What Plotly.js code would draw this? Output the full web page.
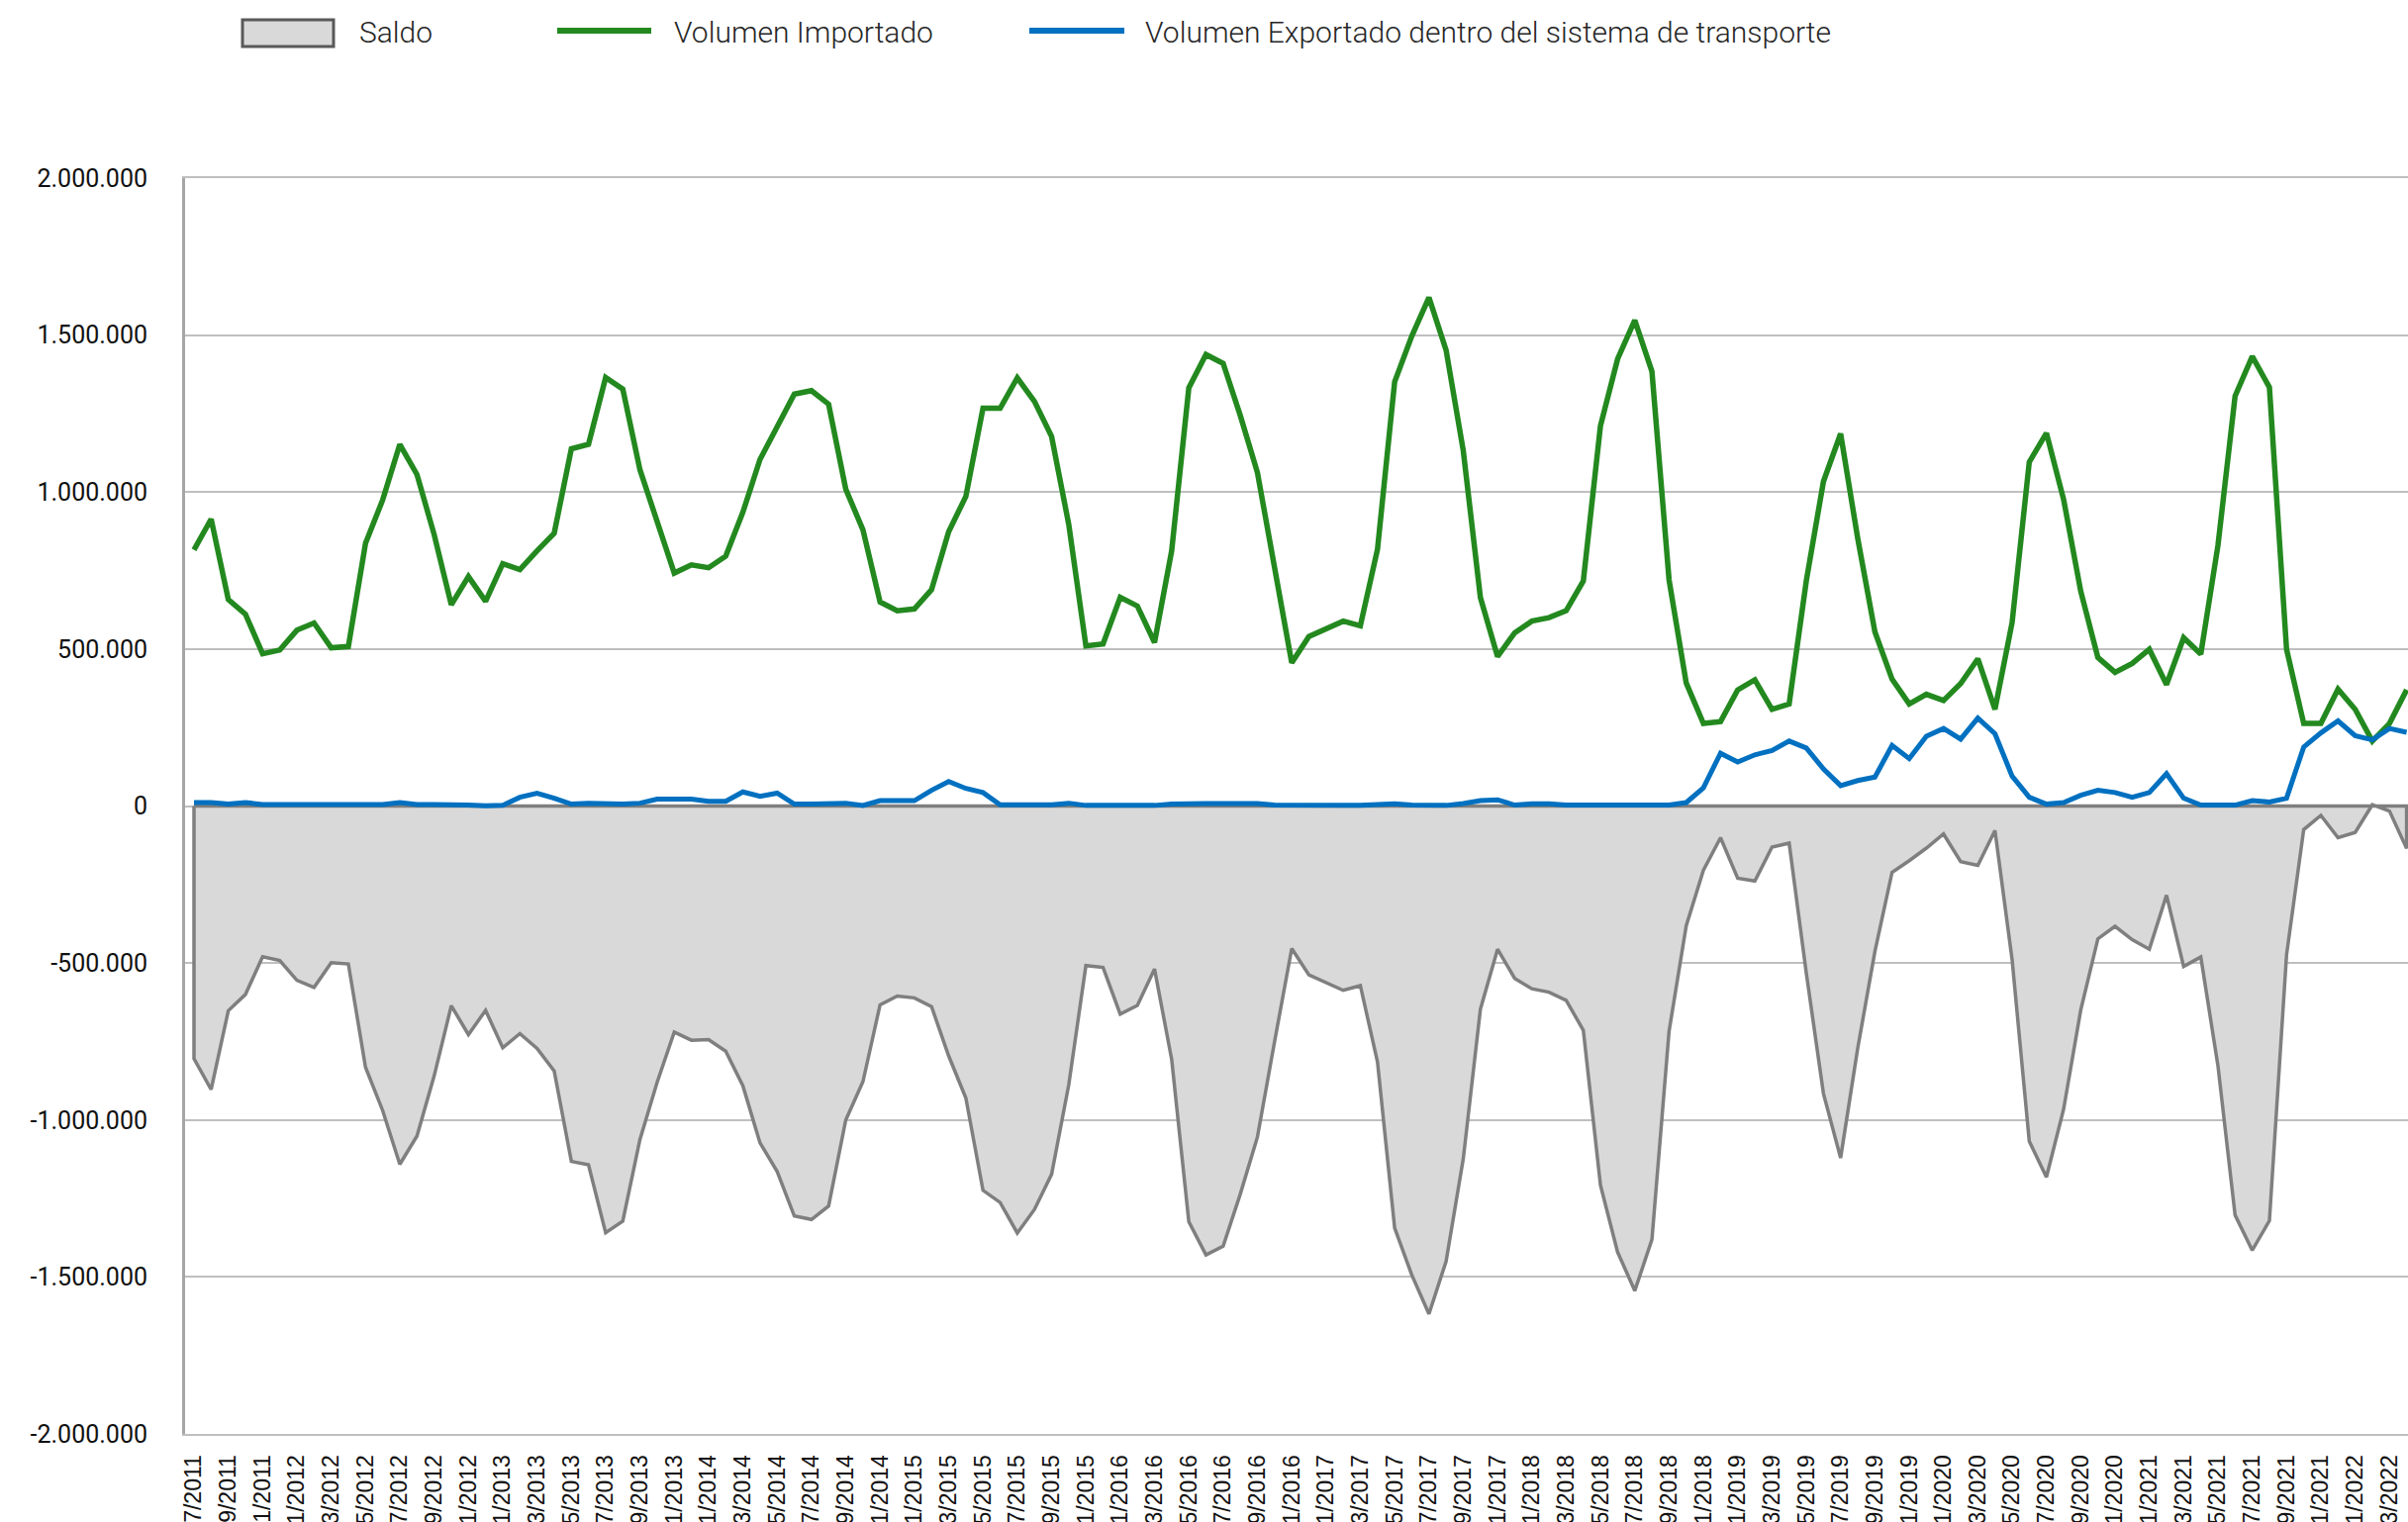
<!DOCTYPE html>
<html>
<head>
<meta charset="utf-8">
<script src="https://cdn.plot.ly/plotly-3.0.1.min.js"></script>
<style>
html,body{margin:0;padding:0;background:#ffffff;overflow:hidden}
#chart{width:2433px;height:1538px}
</style>
</head>
<body>
<div id="chart"></div>
<script>
// ---------- DATA ----------
const months = [
"7/2011","8/2011","9/2011","10/2011","11/2011","12/2011",
"1/2012","2/2012","3/2012","4/2012","5/2012","6/2012","7/2012","8/2012","9/2012","10/2012","11/2012","12/2012",
"1/2013","2/2013","3/2013","4/2013","5/2013","6/2013","7/2013","8/2013","9/2013","10/2013","11/2013","12/2013",
"1/2014","2/2014","3/2014","4/2014","5/2014","6/2014","7/2014","8/2014","9/2014","10/2014","11/2014","12/2014",
"1/2015","2/2015","3/2015","4/2015","5/2015","6/2015","7/2015","8/2015","9/2015","10/2015","11/2015","12/2015",
"1/2016","2/2016","3/2016","4/2016","5/2016","6/2016","7/2016","8/2016","9/2016","10/2016","11/2016","12/2016",
"1/2017","2/2017","3/2017","4/2017","5/2017","6/2017","7/2017","8/2017","9/2017","10/2017","11/2017","12/2017",
"1/2018","2/2018","3/2018","4/2018","5/2018","6/2018","7/2018","8/2018","9/2018","10/2018","11/2018","12/2018",
"1/2019","2/2019","3/2019","4/2019","5/2019","6/2019","7/2019","8/2019","9/2019","10/2019","11/2019","12/2019",
"1/2020","2/2020","3/2020","4/2020","5/2020","6/2020","7/2020","8/2020","9/2020","10/2020","11/2020","12/2020",
"1/2021","2/2021","3/2021","4/2021","5/2021","6/2021","7/2021","8/2021","9/2021","10/2021","11/2021","12/2021",
"1/2022","2/2022","3/2022","4/2022"
];

const xTickLabels = [
"7/2011","9/2011","11/2011",
"1/2012","3/2012","5/2012","7/2012","9/2012","11/2012",
"1/2013","3/2013","5/2013","7/2013","9/2013","11/2013",
"1/2014","3/2014","5/2014","7/2014","9/2014","11/2014",
"1/2015","3/2015","5/2015","7/2015","9/2015","11/2015",
"1/2016","3/2016","5/2016","7/2016","9/2016","11/2016",
"1/2017","3/2017","5/2017","7/2017","9/2017","11/2017",
"1/2018","3/2018","5/2018","7/2018","9/2018","11/2018",
"1/2019","3/2019","5/2019","7/2019","9/2019","11/2019",
"1/2020","3/2020","5/2020","7/2020","9/2020","11/2020",
"1/2021","3/2021","5/2021","7/2021","9/2021","11/2021",
"1/2022","3/2022"
];

const saldo = [
-805000,-903000,-652000,-600000,-480000,-492000,-555000,-578000,-499000,-503000,
-832000,-970000,-1141000,-1051000,-860000,-636000,-728000,-651000,-770000,-725000,
-772000,-844000,-1132000,-1143000,-1359000,-1322000,-1062000,-880000,-720000,-746000,
-744000,-781000,-891000,-1073000,-1164000,-1306000,-1317000,-1274000,-1000000,-878000,
-633000,-605000,-611000,-639000,-796000,-930000,-1224000,-1263000,-1360000,-1285000,
-1173000,-888000,-508000,-514000,-663000,-635000,-519000,-807000,-1324000,-1430000,
-1402000,-1236000,-1054000,-750000,-454000,-538000,-562000,-587000,-572000,-815000,
-1344000,-1494000,-1618000,-1450000,-1124000,-647000,-456000,-549000,-582000,-593000,
-619000,-714000,-1208000,-1421000,-1544000,-1381000,-717000,-381000,-205000,-101000,
-230000,-239000,-131000,-118000,-532000,-916000,-1121000,-771000,-463000,-211000,
-174000,-134000,-89000,-177000,-189000,-78000,-490000,-1068000,-1182000,-966000,
-650000,-423000,-383000,-426000,-456000,-284000,-511000,-481000,-827000,-1303000,
-1415000,-1321000,-474000,-75000,-30000,-101000,-84000,4000,-16000,-135000
];

const importado = [
816000,914000,658000,611000,485000,497000,560000,583000,504000,508000,
837000,975000,1152000,1056000,865000,641000,731000,652000,772000,753000,
813000,869000,1138000,1152000,1365000,1328000,1071000,902000,742000,768000,
759000,796000,936000,1104000,1205000,1312000,1323000,1280000,1009000,880000,
650000,622000,628000,689000,874000,986000,1267000,1267000,1364000,1289000,
1177000,897000,510000,516000,665000,637000,521000,813000,1332000,1438000,
1410000,1244000,1062000,753000,456000,540000,564000,589000,574000,818000,
1351000,1497000,1620000,1452000,1132000,664000,476000,552000,589000,600000,
622000,717000,1211000,1424000,1547000,1384000,720000,392000,263000,269000,
370000,402000,308000,325000,717000,1034000,1186000,852000,555000,404000,
325000,356000,336000,390000,469000,308000,585000,1096000,1188000,977000,
684000,473000,426000,454000,499000,387000,536000,484000,830000,1306000,
1432000,1334000,499000,263000,263000,372000,308000,207000,263000,370000
];

const exportado = [
11000,11000,6000,11000,5000,5000,5000,5000,5000,5000,
5000,5000,11000,5000,5000,5000,3000,1000,2000,28000,
41000,25000,6000,9000,6000,6000,9000,22000,22000,22000,
15000,15000,45000,31000,41000,6000,6000,6000,9000,2000,
17000,17000,17000,50000,78000,56000,43000,4000,4000,4000,
4000,9000,2000,2000,2000,2000,2000,6000,8000,8000,
8000,8000,8000,3000,2000,2000,2000,2000,2000,3000,
7000,3000,2000,2000,8000,17000,20000,3000,7000,7000,
3000,3000,3000,3000,3000,3000,3000,11000,58000,168000,
140000,163000,177000,207000,185000,118000,65000,81000,92000,193000,
151000,222000,247000,213000,280000,230000,95000,28000,6000,11000,
34000,50000,43000,28000,43000,103000,25000,3000,3000,3000,
17000,13000,25000,188000,233000,271000,224000,211000,247000,235000
];

const yTickValues = [-2000000,-1500000,-1000000,-500000,0,500000,1000000,1500000,2000000];
const yTickLabels = ["-2.000.000","-1.500.000","-1.000.000","-500.000","0","500.000","1.000.000","1.500.000","2.000.000"];

const seriesNames = ["Saldo","Volumen Importado","Volumen Exportado dentro del sistema de transporte"];

// ---------- STYLE / GEOMETRY ----------
const W = 2433, H = 1538, L = 187, R = 0, T = 180, B = 89;
const PW = W - L - R, PH = H - T - B;
const px = x => (x - L) / PW;
const py = y => (H - B - y) / PH;

const GREEN = "#23891F", BLUE = "#0070C0", GREYLINE = "#7F7F7F", GREYFILL = "#D9D9D9";
const ROBOTO = 'Roboto, "Noto Sans", sans-serif';
const ARIAL = '"Liberation Sans", Arial, sans-serif';

const last = months.length - 1;
const saldoX = [months[0]].concat(months, [months[last], months[0]]);
const saldoY = [0].concat(saldo, [0, 0]);

const traces = [
  {
    type: "scatter", mode: "lines", name: seriesNames[0],
    x: saldoX, y: saldoY, fill: "toself", fillcolor: GREYFILL,
    line: {color: GREYLINE, width: 3.5}, showlegend: false, hoverinfo: "skip"
  },
  {
    type: "scatter", mode: "lines", name: seriesNames[1],
    x: months, y: importado,
    line: {color: GREEN, width: 5.5}, showlegend: false
  },
  {
    type: "scatter", mode: "lines", name: seriesNames[2],
    x: months, y: exportado,
    line: {color: BLUE, width: 5}, showlegend: false
  }
];

// manual legend (symbols + texts)
const legendY = 33;
const shapes = [
  {type: "rect", xref: "paper", yref: "paper",
   x0: px(245), x1: px(337), y0: py(47), y1: py(20),
   fillcolor: GREYFILL, line: {color: "#595959", width: 3}},
  {type: "line", xref: "paper", yref: "paper",
   x0: px(563), x1: px(658), y0: py(31), y1: py(31),
   line: {color: GREEN, width: 6}},
  {type: "line", xref: "paper", yref: "paper",
   x0: px(1040), x1: px(1136), y0: py(31), y1: py(31),
   line: {color: BLUE, width: 6}}
];
const legendTextX = [361, 679, 1155];
const annotations = seriesNames.map((t, k) => ({
  xref: "paper", yref: "paper", x: px(legendTextX[k]), y: py(legendY),
  xanchor: "left", yanchor: "middle", showarrow: false, text: t,
  font: {family: ROBOTO, size: 30, weight: 300, color: "#262626"}
}));

const layout = {
  width: W, height: H,
  margin: {l: L, r: R, t: T, b: B, pad: 0},
  paper_bgcolor: "#ffffff", plot_bgcolor: "#ffffff",
  showlegend: false,
  xaxis: {
    type: "category",
    range: [-0.52, 129.08],
    tickmode: "array", tickvals: xTickLabels, ticktext: xTickLabels,
    tickangle: -90, ticks: "", ticklabelstandoff: 10,
    tickfont: {family: ARIAL, size: 23, color: "#111111"},
    showgrid: false, zeroline: false,
    showline: true, mirror: true, linecolor: "#BFBFBF", linewidth: 2,
    automargin: false
  },
  yaxis: {
    range: [-2000000, 2000000],
    tickmode: "array", tickvals: yTickValues, ticktext: yTickLabels,
    ticks: "", ticklabelstandoff: 30,
    tickfont: {family: ROBOTO, size: 25, color: "#111111"},
    showgrid: true, gridcolor: "#BFBFBF", gridwidth: 2,
    zeroline: false,
    showline: true, linecolor: "#A6A6A6", linewidth: 3,
    automargin: false
  },
  shapes: shapes,
  annotations: annotations
};

Plotly.newPlot("chart", traces, layout, {displayModeBar: false, staticPlot: true});
</script>
</body>
</html>
